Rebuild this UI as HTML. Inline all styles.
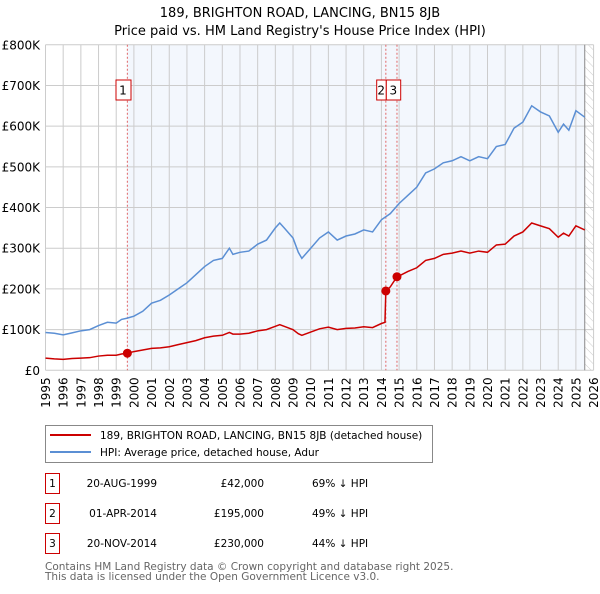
<!DOCTYPE html>
<html><head><meta charset="utf-8"><style>
body{margin:0;background:#fff;width:600px;height:590px;overflow:hidden;font-family:"DejaVu Sans","Liberation Sans",sans-serif;}
svg text{font-family:"DejaVu Sans","Liberation Sans",sans-serif;}
</style></head><body>
<svg id="chart" width="600" height="590" xmlns="http://www.w3.org/2000/svg">
<defs><pattern id="hatch" width="6" height="6" patternUnits="userSpaceOnUse" patternTransform="rotate(-45)"><line x1="0" y1="0" x2="0" y2="6" stroke="#ccc" stroke-width="1"/></pattern></defs>
<text x="300" y="17" text-anchor="middle" font-size="13">189, BRIGHTON ROAD, LANCING, BN15 8JB</text>
<text x="300" y="35" text-anchor="middle" font-size="13">Price paid vs. HM Land Registry's House Price Index (HPI)</text>
<g id="plot"></g>
<g id="legend">
<rect x="45.5" y="425.5" width="387" height="37" fill="#fff" stroke="#888"/>
<line x1="50" y1="435" x2="91" y2="435" stroke="#cc0000" stroke-width="2"/>
<text x="100" y="439" font-size="10.5">189, BRIGHTON ROAD, LANCING, BN15 8JB (detached house)</text>
<line x1="50" y1="452" x2="91" y2="452" stroke="#5b8fd4" stroke-width="2"/>
<text x="100" y="456" font-size="10.5">HPI: Average price, detached house, Adur</text>
</g>
<g id="table" font-size="10.5"></g>
<text x="45" y="570" font-size="10.5" fill="#666">Contains HM Land Registry data © Crown copyright and database right 2025.</text>
<text x="45" y="580" font-size="10.5" fill="#666">This data is licensed under the Open Government Licence v3.0.</text>
</svg>
<script>
const hpiYears=[1995,1995.5,1996,1996.5,1997,1997.5,1998,1998.5,1999,1999.3,1999.6,2000,2000.5,2001,2001.5,2002,2002.5,2003,2003.5,2004,2004.5,2005,2005.4,2005.6,2006,2006.5,2007,2007.5,2008,2008.25,2008.5,2009,2009.3,2009.5,2010,2010.5,2011,2011.5,2012,2012.5,2013,2013.5,2014,2014.5,2015,2015.5,2016,2016.5,2017,2017.5,2018,2018.5,2019,2019.5,2020,2020.5,2021,2021.5,2022,2022.5,2023,2023.5,2024,2024.3,2024.6,2025,2025.5];
const hpiValues=[93,91,87,92,97,100,110,118,116,125,128,133,145,165,172,185,200,215,235,255,270,275,300,285,290,293,310,320,350,362,350,325,290,275,300,325,340,320,330,335,345,340,370,385,410,430,450,485,495,510,515,525,515,525,520,550,555,595,610,650,635,625,585,605,590,638,622];
const redYears=[1995,1995.5,1996,1996.5,1997,1997.5,1998,1998.5,1999,1999.3,1999.63,2000,2000.5,2001,2001.5,2002,2002.5,2003,2003.5,2004,2004.5,2005,2005.4,2005.6,2006,2006.5,2007,2007.5,2008,2008.25,2008.5,2009,2009.3,2009.5,2010,2010.5,2011,2011.5,2012,2012.5,2013,2013.5,2014,2014.2,2014.25,2014.5,2014.88,2015,2015.5,2016,2016.5,2017,2017.5,2018,2018.5,2019,2019.5,2020,2020.5,2021,2021.5,2022,2022.5,2023,2023.5,2024,2024.3,2024.6,2025,2025.5];
const redValues=[30,28,27,29,30,31,35,37,37,40,42,46,50,54,55,58,63,68,73,80,84,86,93,89,89,91,97,100,108,112,108,100,90,86,94,102,106,100,103,104,107,105,115,118,195,205,230,232,243,252,270,275,285,288,293,288,293,290,308,310,330,340,362,355,348,327,337,330,355,345];
const saleIds=["1","2","3"];
const saleYears=[1999.63,2014.25,2014.88];
const salePrices=[42000,195000,230000];
const saleDates=["20-AUG-1999","01-APR-2014","20-NOV-2014"];
const salePriceLabels=["£42,000","£195,000","£230,000"];
const saleDiffs=["69% ↓ HPI","49% ↓ HPI","44% ↓ HPI"];
const yTicks=[0,100,200,300,400,500,600,700,800];
const yTickLabels=["£0","£100K","£200K","£300K","£400K","£500K","£600K","£700K","£800K"];
const xTicks=[1995,1996,1997,1998,1999,2000,2001,2002,2003,2004,2005,2006,2007,2008,2009,2010,2011,2012,2013,2014,2015,2016,2017,2018,2019,2020,2021,2022,2023,2024,2025,2026];
const NS="http://www.w3.org/2000/svg";
const X0=45.5,XS=17.68,Y0=370.3,YS=0.4069;
function xs(y){return X0+(y-1995)*XS;}
function ys(k){return Y0-k*YS;}
function mk(tag,attrs,parent){const e=document.createElementNS(NS,tag);for(const k in attrs)e.setAttribute(k,attrs[k]);parent.appendChild(e);return e;}
const plot=document.getElementById('plot');
const pLeft=xs(1995),pRight=xs(2026),pTop=ys(800),pBot=ys(0);
let sh=mk('rect',{x:xs(saleYears[0]),y:pTop,width:xs(2025.5)-xs(saleYears[0]),height:pBot-pTop,fill:'#eef3fc',opacity:0.7},plot);


let ha=mk('rect',{x:xs(2025.5),y:pTop,width:pRight-xs(2025.5),height:pBot-pTop,fill:'url(#hatch)'},plot);


xTicks.forEach((t,i)=>{
 let g=mk('line',{x1:xs(t),x2:xs(t),y1:pTop,y2:pBot,stroke:'#ccc','stroke-width':1},plot);
 
 
 let tx=mk('text',{x:0,y:0,'font-size':12,'text-anchor':'end',transform:`translate(${xs(t)+4.5},${pBot+7}) rotate(-90)`},plot);
 tx.textContent=t;
 
 
});
yTicks.forEach((t,i)=>{
 let g=mk('line',{x1:pLeft,x2:pRight,y1:ys(t),y2:ys(t),stroke:'#ccc','stroke-width':1},plot);
 
 
 let tx=mk('text',{x:40,y:ys(t)+4.5,'font-size':12,'text-anchor':'end'},plot);
 tx.textContent=yTickLabels[i];
 
 
});
let ra=mk('line',{x1:xs(2025.5),x2:xs(2025.5),y1:pTop,y2:pBot,stroke:'#888','stroke-width':1},plot);


saleYears.forEach((s,i)=>{
 let l=mk('line',{x1:xs(s),x2:xs(s),y1:pTop,y2:pBot,stroke:'#e06666','stroke-width':1,'stroke-dasharray':'2,2'},plot);
 
 
});
let hp=mk('polyline',{points:hpiYears.map((y,i)=>xs(y)+','+ys(hpiValues[i])).join(' '),fill:'none',stroke:'#5b8fd4','stroke-width':1.5},plot);


let rl=mk('polyline',{points:redYears.map((y,i)=>xs(y)+','+ys(redValues[i])).join(' '),fill:'none',stroke:'#cc0000','stroke-width':1.5},plot);


const boxX=[116,376.7,386.3];
saleYears.forEach((s,i)=>{
 let c=mk('circle',{cx:xs(s),cy:ys(salePrices[i]/1000),r:4.5,fill:'#cc0000'},plot);
 
 
 let b=mk('rect',{x:boxX[i],y:80,width:i==0?15:(i==1?9.6:14.4),height:20,fill:'#fff',stroke:'#cc0000','stroke-width':1},plot);
 
 
 let t=mk('text',{x:boxX[i]+(i==1?4.5:7),y:94.5,'font-size':12,'text-anchor':'middle'},plot);
 t.textContent=saleIds[i];
 
 
});
const tbl=document.getElementById('table');
saleIds.forEach((id,i)=>{
 const yy=483+i*30;
 let b=mk('rect',{x:45.5,y:yy-9.5,width:14,height:20,fill:'#fff',stroke:'#cc0000'},tbl);
 
 
 let a=mk('text',{x:52.5,y:yy+4},tbl);a.setAttribute('text-anchor','middle');a.textContent=id;
 
 
 let d=mk('text',{x:157,y:yy+4,'text-anchor':'end'},tbl);d.textContent=saleDates[i];
 
 
 let p=mk('text',{x:264,y:yy+4,'text-anchor':'end'},tbl);p.textContent=salePriceLabels[i];
 
 
 let h=mk('text',{x:312,y:yy+4},tbl);h.textContent=saleDiffs[i];
 
 
});
</script>
</body></html>
